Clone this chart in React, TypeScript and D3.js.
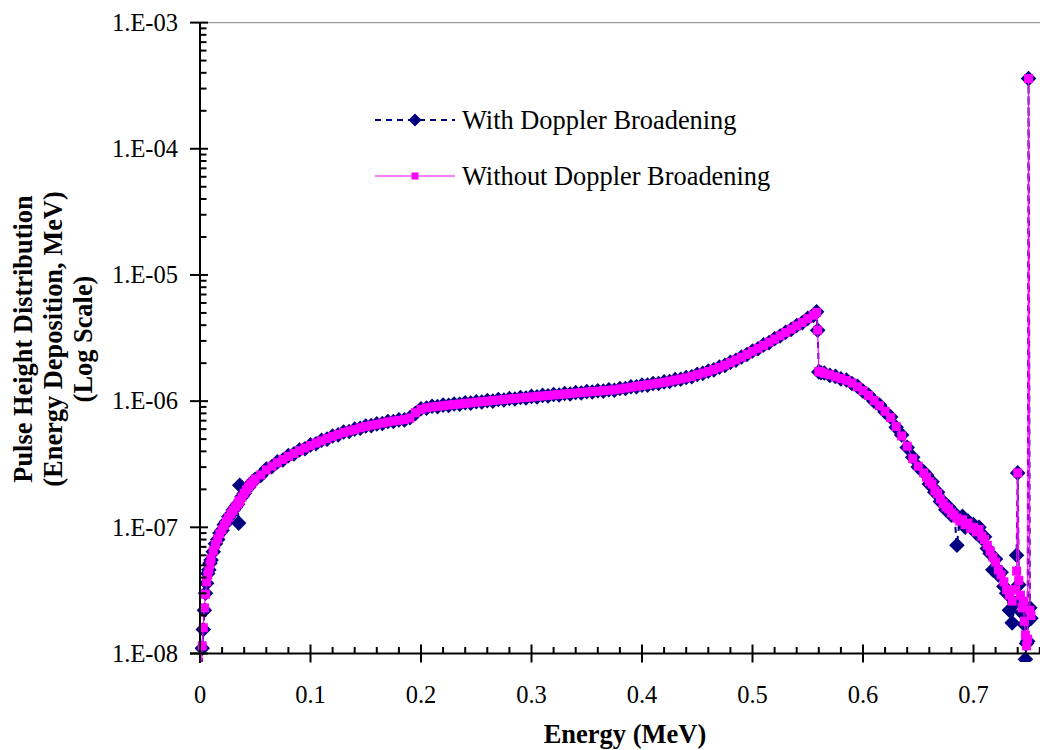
import React from "react";
import * as d3 from "d3";

// ---- Data (energy in MeV, pulse height distribution) ----
const energyA = [0.001, 0.002, 0.003, 0.004, 0.005, 0.006, 0.007, 0.008, 0.009, 0.010,
  0.012, 0.014, 0.016, 0.018, 0.020, 0.022, 0.024, 0.026, 0.028, 0.030,
  0.032, 0.034, 0.035, 0.036, 0.038, 0.040, 0.042, 0.044, 0.046, 0.048, 0.050];
const withoutA = [6e-9, 1.15e-8, 1.6e-8, 2.3e-8, 2.95e-8, 3.7e-8, 4.2e-8, 4.65e-8, 5.1e-8, 5.6e-8,
  6.5e-8, 7.3e-8, 8.1e-8, 8.9e-8, 9.6e-8, 1.04e-7, 1.12e-7, 1.2e-7, 1.28e-7, 1.36e-7,
  1.45e-7, 1.53e-7, 1.58e-7, 1.63e-7, 1.74e-7, 1.86e-7, 1.98e-7, 2.1e-7, 2.2e-7, 2.3e-7, 2.42e-7];
const withA = [5.5e-9, 1.1e-8, 1.55e-8, 2.2e-8, 3.0e-8, 3.6e-8, 4.3e-8, 4.6e-8, 5.2e-8, 5.5e-8,
  6.4e-8, 7.4e-8, 8.0e-8, 9.0e-8, 9.5e-8, 1.05e-7, 1.11e-7, 1.21e-7, 1.27e-7, 1.37e-7,
  1.44e-7, 1.52e-7, 1.08e-7, 2.15e-7, 1.75e-7, 1.85e-7, 1.99e-7, 2.08e-7, 2.21e-7, 2.32e-7, 2.4e-7];

const energyB1 = [0.055, 0.06, 0.065, 0.07, 0.075, 0.08, 0.085, 0.09, 0.095, 0.1,
  0.105, 0.11, 0.115, 0.12, 0.125, 0.13, 0.135, 0.14, 0.145, 0.15,
  0.155, 0.16, 0.165, 0.17, 0.175, 0.18, 0.185, 0.19, 0.195, 0.2,
  0.205, 0.21, 0.215, 0.22, 0.225, 0.23, 0.235, 0.24, 0.245, 0.25,
  0.255, 0.26, 0.265, 0.27, 0.275, 0.28, 0.285, 0.29, 0.295, 0.3];
const withoutB1 = [2.6e-7, 2.85e-7, 3.05e-7, 3.25e-7, 3.45e-7, 3.65e-7, 3.85e-7, 4.05e-7, 4.25e-7, 4.45e-7,
  4.65e-7, 4.85e-7, 5.05e-7, 5.25e-7, 5.45e-7, 5.65e-7, 5.8e-7, 5.95e-7, 6.15e-7, 6.3e-7,
  6.45e-7, 6.55e-7, 6.7e-7, 6.85e-7, 6.95e-7, 7.05e-7, 7.15e-7, 7.35e-7, 8.1e-7, 8.6e-7,
  8.85e-7, 9.0e-7, 9.1e-7, 9.2e-7, 9.3e-7, 9.4e-7, 9.5e-7, 9.6e-7, 9.7e-7, 9.8e-7,
  9.9e-7, 1.0e-6, 1.01e-6, 1.02e-6, 1.03e-6, 1.04e-6, 1.05e-6, 1.06e-6, 1.07e-6, 1.08e-6];
const withB1 = [2.58e-7, 2.9e-7, 3.02e-7, 3.3e-7, 3.42e-7, 3.7e-7, 3.82e-7, 4.1e-7, 4.2e-7, 4.5e-7,
  4.6e-7, 4.9e-7, 5.0e-7, 5.3e-7, 5.4e-7, 5.7e-7, 5.75e-7, 6.0e-7, 6.1e-7, 6.35e-7,
  6.4e-7, 6.6e-7, 6.65e-7, 6.9e-7, 6.9e-7, 7.1e-7, 7.1e-7, 7.4e-7, 8.0e-7, 8.7e-7,
  8.8e-7, 9.1e-7, 9.05e-7, 9.3e-7, 9.25e-7, 9.5e-7, 9.45e-7, 9.7e-7, 9.65e-7, 9.9e-7,
  9.85e-7, 1.01e-6, 1.0e-6, 1.03e-6, 1.02e-6, 1.05e-6, 1.04e-6, 1.07e-6, 1.06e-6, 1.09e-6];

const energyB2 = [0.305, 0.31, 0.315, 0.32, 0.325, 0.33, 0.335, 0.34, 0.345, 0.35,
  0.355, 0.36, 0.365, 0.37, 0.375, 0.38, 0.385, 0.39, 0.395, 0.4,
  0.405, 0.41, 0.415, 0.42, 0.425, 0.43, 0.435, 0.44, 0.445, 0.45,
  0.455, 0.46, 0.465, 0.47, 0.475, 0.48, 0.485, 0.49, 0.495, 0.5,
  0.505, 0.51, 0.515, 0.52, 0.525, 0.53, 0.535, 0.54, 0.545, 0.55, 0.555];
const withoutB2 = [1.09e-6, 1.1e-6, 1.11e-6, 1.12e-6, 1.13e-6, 1.14e-6, 1.15e-6, 1.16e-6, 1.17e-6, 1.18e-6,
  1.19e-6, 1.2e-6, 1.21e-6, 1.22e-6, 1.23e-6, 1.25e-6, 1.27e-6, 1.29e-6, 1.31e-6, 1.33e-6,
  1.35e-6, 1.37e-6, 1.39e-6, 1.41e-6, 1.44e-6, 1.47e-6, 1.5e-6, 1.53e-6, 1.57e-6, 1.62e-6,
  1.67e-6, 1.72e-6, 1.78e-6, 1.85e-6, 1.93e-6, 2.02e-6, 2.12e-6, 2.23e-6, 2.35e-6, 2.48e-6,
  2.62e-6, 2.77e-6, 2.93e-6, 3.1e-6, 3.3e-6, 3.5e-6, 3.72e-6, 3.95e-6, 4.2e-6, 4.5e-6, 4.8e-6];
const withB2 = [1.08e-6, 1.11e-6, 1.1e-6, 1.13e-6, 1.12e-6, 1.15e-6, 1.14e-6, 1.17e-6, 1.16e-6, 1.19e-6,
  1.18e-6, 1.21e-6, 1.2e-6, 1.23e-6, 1.22e-6, 1.26e-6, 1.26e-6, 1.3e-6, 1.3e-6, 1.34e-6,
  1.34e-6, 1.38e-6, 1.38e-6, 1.42e-6, 1.43e-6, 1.48e-6, 1.49e-6, 1.54e-6, 1.56e-6, 1.63e-6,
  1.66e-6, 1.73e-6, 1.77e-6, 1.86e-6, 1.92e-6, 2.03e-6, 2.11e-6, 2.24e-6, 2.34e-6, 2.5e-6,
  2.6e-6, 2.79e-6, 2.91e-6, 3.12e-6, 3.28e-6, 3.52e-6, 3.7e-6, 3.98e-6, 4.18e-6, 4.53e-6, 4.78e-6];

const energyC = [0.558, 0.559, 0.56, 0.562, 0.565, 0.57, 0.575, 0.58, 0.585, 0.59,
  0.595, 0.6, 0.605, 0.61, 0.615, 0.62, 0.625, 0.63, 0.635, 0.64,
  0.645, 0.65, 0.655];
const withoutC = [5.05e-6, 3.65e-6, 1.72e-6, 1.7e-6, 1.66e-6, 1.62e-6, 1.56e-6, 1.51e-6, 1.46e-6, 1.39e-6,
  1.3e-6, 1.21e-6, 1.11e-6, 1.01e-6, 9.2e-7, 8.3e-7, 7.4e-7, 6.3e-7, 5.3e-7, 4.4e-7,
  3.5e-7, 3.05e-7, 2.7e-7];
const withC = [5.1e-6, 3.65e-6, 1.7e-6, 1.68e-6, 1.67e-6, 1.6e-6, 1.57e-6, 1.5e-6, 1.47e-6, 1.38e-6,
  1.31e-6, 1.2e-6, 1.12e-6, 1.0e-6, 9.3e-7, 8.2e-7, 7.5e-7, 6.2e-7, 5.4e-7, 4.3e-7,
  3.6e-7, 3.0e-7, 2.75e-7];

const energyD = [0.6575, 0.66, 0.6625, 0.665, 0.6675, 0.67, 0.6725, 0.675, 0.6775, 0.68,
  0.6825, 0.685, 0.6875, 0.69, 0.6925, 0.695, 0.6975, 0.7, 0.7025, 0.705,
  0.7075, 0.71, 0.7125, 0.715, 0.7175, 0.72, 0.7225, 0.725, 0.7275, 0.73,
  0.7325, 0.735, 0.7375, 0.739, 0.74, 0.741, 0.7425, 0.744, 0.745, 0.746,
  0.747, 0.748, 0.749, 0.7498, 0.751, 0.752];
const withoutD = [2.5e-7, 2.3e-7, 2.2e-7, 1.95e-7, 1.85e-7, 1.68e-7, 1.55e-7, 1.45e-7, 1.4e-7, 1.3e-7,
  1.25e-7, 1.18e-7, 1.12e-7, 1.15e-7, 1.05e-7, 1.08e-7, 9.8e-8, 1.0e-7, 9.2e-8, 9.6e-8,
  8.5e-8, 8.0e-8, 7.2e-8, 6.5e-8, 5.8e-8, 5.3e-8, 4.6e-8, 4.2e-8, 3.7e-8, 3.2e-8,
  2.9e-8, 2.6e-8, 3.2e-8, 4.5e-8, 2.7e-7, 3.8e-8, 2.9e-8, 2.3e-8, 2.6e-8, 1.8e-8,
  1.4e-8, 1.15e-8, 1.3e-8, 3.6e-4, 2.2e-8, 2.0e-8];
const withD = [2.6e-7, 2.2e-7, 2.3e-7, 1.9e-7, 1.9e-7, 1.6e-7, 1.6e-7, 1.38e-7, 1.45e-7, 1.25e-7,
  1.3e-7, 7.2e-8, 1.18e-7, 1.22e-7, 1.0e-7, 1.12e-7, 1.0e-7, 1.05e-7, 9.0e-8, 1.0e-7,
  8.2e-8, 8.4e-8, 6.8e-8, 6.2e-8, 4.6e-8, 5.6e-8, 4.2e-8, 4.4e-8, 3.4e-8, 3.0e-8,
  2.2e-8, 1.75e-8, 2.5e-8, 6.0e-8, 2.7e-7, 3.5e-8, 2.6e-8, 2.1e-8, 2.4e-8, 1.7e-8,
  9e-9, 1.2e-8, 1.25e-8, 3.6e-4, 2.3e-8, 1.9e-8];

const energy = [...energyA, ...energyB1, ...energyB2, ...energyC, ...energyD];
const withoutDoppler = [...withoutA, ...withoutB1, ...withoutB2, ...withoutC, ...withoutD];
const withDoppler = [...withA, ...withB1, ...withB2, ...withC, ...withD];

const xMajorTicks = [0, 0.1, 0.2, 0.3, 0.4, 0.5, 0.6, 0.7];
const xTickLabels = ["0", "0.1", "0.2", "0.3", "0.4", "0.5", "0.6", "0.7"];
const yMajorTicks = [1e-8, 1e-7, 1e-6, 1e-5, 1e-4, 1e-3];
const yTickLabels = ["1.E-08", "1.E-07", "1.E-06", "1.E-05", "1.E-04", "1.E-03"];
const seriesNames = ["With Doppler Broadening", "Without Doppler Broadening"];
const xTitle = "Energy (MeV)";
const yTitleLines = ["Pulse Height Distribution", "(Energy Deposition, MeV)", "(Log Scale)"];

const NAVY = "#000080";
const MAGENTA = "#FF00FF";
const FONT = "'Liberation Serif','Times New Roman',serif";

export default function App() {
  const x = d3.scaleLinear().domain([0, 0.76]).range([200, 1039.8]);
  const y = d3.scaleLog().domain([1e-8, 1e-3]).range([653.5, 22.6]);

  const withPts: [number, number][] = energy.map((e, i) => [e, withDoppler[i]]);
  const withoutPts: [number, number][] = energy.map((e, i) => [e, withoutDoppler[i]]);
  const line = d3.line<[number, number]>().x((d) => x(d[0])).y((d) => y(d[1]));

  const xMinor = d3.range(1, 39).map((i) => i * 0.02).filter((v) => Math.abs(v * 10 - Math.round(v * 10)) > 1e-6);
  const yMinor: number[] = [];
  for (let k = -8; k <= -4; k++) for (let m = 2; m <= 9; m++) yMinor.push(m * Math.pow(10, k));

  const diamond = (cx: number, cy: number, r: number) => `M${cx},${cy - r}L${cx + r},${cy}L${cx},${cy + r}L${cx - r},${cy}Z`;
  const sq = 9;
  const dr = 7.8;
  const x0 = x(0);
  const yBot = y(1e-8);
  const yTop = y(1e-3);

  return (
    <svg width={1040} height={750} style={{ position: "absolute", left: 0, top: 0, background: "#fff" }}>
      <defs>
        <clipPath id="plotClip">
          <rect x={195} y={10} width={845} height={652} />
        </clipPath>
      </defs>
      <rect x={0} y={0} width={1040} height={750} fill="#fff" />
      {/* top border */}
      <line x1={x0} x2={1040} y1={yTop} y2={yTop} stroke="#999" strokeWidth={1.2} />

      {/* series */}
      <g clipPath="url(#plotClip)">
        <path d={line(withPts) || ""} fill="none" stroke={NAVY} strokeWidth={2} strokeDasharray="6,5" />
        {withPts.map((d, i) => (
          <path key={"w" + i} d={diamond(x(d[0]), y(d[1]), dr)} fill={NAVY} />
        ))}
        <path d={line(withoutPts) || ""} fill="none" stroke={MAGENTA} strokeWidth={1.2} />
        {withoutPts.map((d, i) => (
          <rect key={"o" + i} x={x(d[0]) - sq / 2} y={y(d[1]) - sq / 2} width={sq} height={sq} fill={MAGENTA} />
        ))}
      </g>

      {/* axes */}
      <line x1={190} x2={1040} y1={yBot} y2={yBot} stroke="#000" strokeWidth={2} />
      <line x1={x0} x2={x0} y1={yTop} y2={663} stroke="#000" strokeWidth={2} />
      {xMajorTicks.map((t) => (
        <line key={"xt" + t} x1={x(t)} x2={x(t)} y1={yBot - 9} y2={yBot + 9} stroke="#000" strokeWidth={2} />
      ))}
      {xMinor.map((t, i) => (
        <line key={"xm" + i} x1={x(t)} x2={x(t)} y1={yBot - 6.5} y2={yBot} stroke="#000" strokeWidth={2} />
      ))}
      {yMajorTicks.map((t) => (
        <line key={"yt" + t} x1={x0 - 10} x2={x0 + 8} y1={y(t)} y2={y(t)} stroke="#000" strokeWidth={2} />
      ))}
      {yMinor.map((t, i) => (
        <line key={"ym" + i} x1={x0} x2={x0 + 6.5} y1={y(t)} y2={y(t)} stroke="#000" strokeWidth={2} />
      ))}

      {/* tick labels */}
      {xMajorTicks.map((t, i) => (
        <text key={"xl" + t} x={x(t)} y={703} textAnchor="middle" fontFamily={FONT} fontSize={24.5} fill="#000">
          {xTickLabels[i]}
        </text>
      ))}
      {yMajorTicks.map((t, i) => (
        <text key={"yl" + t} x={178} y={y(t) + 8.3} textAnchor="end" fontFamily={FONT} fontSize={24.5} fill="#000">
          {yTickLabels[i]}
        </text>
      ))}

      {/* axis titles */}
      <text x={625} y={743} textAnchor="middle" fontFamily={FONT} fontSize={26.5} fontWeight="bold" fill="#000">
        {xTitle}
      </text>
      <g transform="rotate(-90)">
        {yTitleLines.map((s, i) => (
          <text key={"yt" + i} x={-339} y={32 + i * 30} textAnchor="middle" fontFamily={FONT} fontSize={26.4} fontWeight="bold" fill="#000">
            {s}
          </text>
        ))}
      </g>

      {/* legend */}
      <line x1={375} x2={455} y1={120} y2={120} stroke={NAVY} strokeWidth={2} strokeDasharray="6,5" />
      <path d={diamond(415, 120, 6.5)} fill={NAVY} />
      <text x={462} y={129} fontFamily={FONT} fontSize={26.4} fill="#000">{seriesNames[0]}</text>
      <line x1={375} x2={455} y1={176} y2={176} stroke={MAGENTA} strokeWidth={1.2} />
      <rect x={415 - 3.5} y={176 - 3.5} width={7} height={7} fill={MAGENTA} />
      <text x={462} y={185} fontFamily={FONT} fontSize={26.4} fill="#000">{seriesNames[1]}</text>
    </svg>
  );
}
